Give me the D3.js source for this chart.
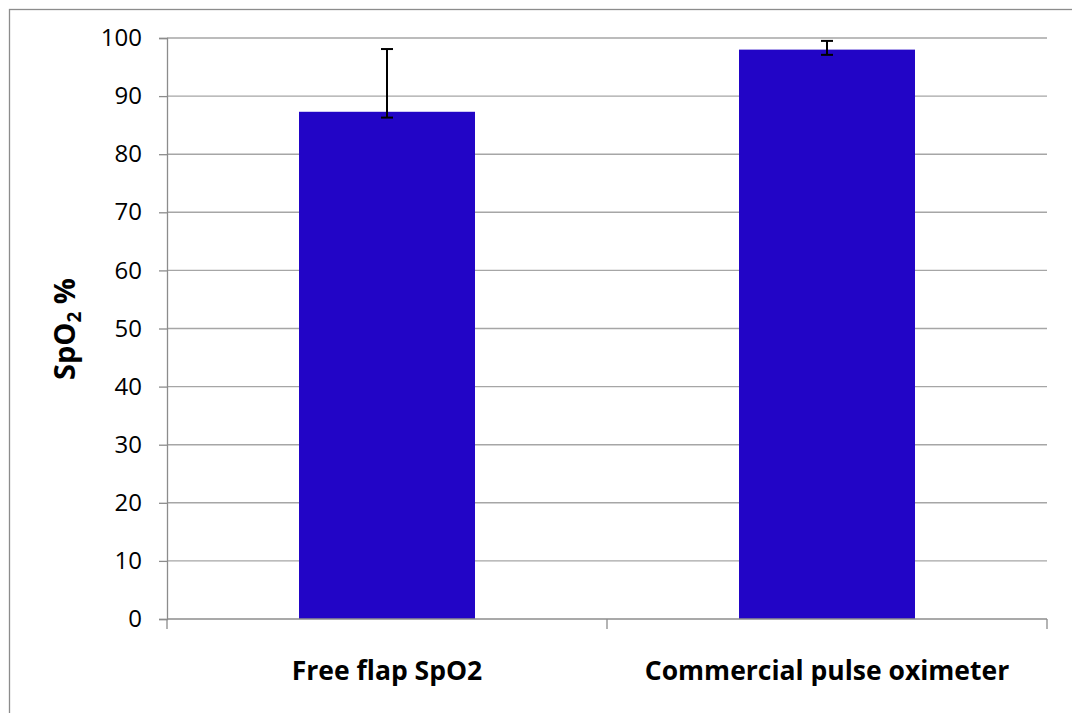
<!DOCTYPE html>
<html><head><meta charset="utf-8">
<script src="https://cdn.jsdelivr.net/npm/d3@7"></script>
<style>
html,body{margin:0;padding:0;background:#fff;}
svg{display:block;}
text{font-family:"Open Sans",sans-serif;fill:#000;}
</style></head>
<body>
<svg id="chart" width="1072" height="713"></svg>
<script>
const categories = ["Free flap SpO2", "Commercial pulse oximeter"];
const values = [87.3, 98.0];
const errLow = [86.3, 97.1];
const errHigh = [98.1, 99.5];
const yTicks = [0, 10, 20, 30, 40, 50, 60, 70, 80, 90, 100];

const svg = d3.select("#chart");
const W = 1072, H = 713;
const plot = {left: 167, right: 1047, top: 38, bottom: 619};

// outer chart border
svg.append("rect").attr("x", 9.5).attr("y", 9.5).attr("width", W + 20).attr("height", H + 20)
  .attr("fill", "none").attr("stroke", "#8c8c8c").attr("stroke-width", 1.3);

const x = d3.scaleBand().domain(categories).range([plot.left, plot.right]).paddingInner(0.6).paddingOuter(0.3);
const y = d3.scaleLinear().domain([0, 100]).range([plot.bottom, plot.top]);

// gridlines
svg.append("g").selectAll("line").data(yTicks.filter(d => d > 0)).join("line")
  .attr("x1", plot.left).attr("x2", plot.right)
  .attr("y1", d => y(d)).attr("y2", d => y(d))
  .attr("stroke", "#a6a6a6").attr("stroke-width", 1.4);

// bars
svg.append("g").selectAll("rect").data(categories).join("rect")
  .attr("x", d => x(d)).attr("width", x.bandwidth())
  .attr("y", (d, i) => y(values[i])).attr("height", (d, i) => y(0) - y(values[i]))
  .attr("fill", "#2205c6");

// y axis
const yAxis = d3.axisLeft(y).tickValues(yTicks).tickSize(8).tickPadding(17);
const gy = svg.append("g").attr("transform", `translate(${plot.left},0)`).call(yAxis);
gy.select(".domain").attr("stroke", "#8c8c8c").attr("stroke-width", 1.3);
gy.selectAll(".tick line").attr("stroke", "#8c8c8c").attr("stroke-width", 1.3);
gy.selectAll(".tick text").attr("font-family", "'Open Sans',sans-serif").attr("font-size", 24).attr("fill", "#000");

// x axis
const xEdges = d3.scaleLinear().domain([0, categories.length]).range([plot.left, plot.right]);
const gx = svg.append("g");
gx.append("line").attr("x1", plot.left).attr("x2", plot.right).attr("y1", y(0)).attr("y2", y(0))
  .attr("stroke", "#8c8c8c").attr("stroke-width", 1.3);
gx.selectAll("line.tk").data(d3.range(categories.length + 1)).join("line").attr("class", "tk")
  .attr("x1", d => xEdges(d)).attr("x2", d => xEdges(d)).attr("y1", y(0)).attr("y2", y(0) + 10)
  .attr("stroke", "#8c8c8c").attr("stroke-width", 1.3);
gx.selectAll("text").data(categories).join("text")
  .attr("x", d => x(d) + x.bandwidth() / 2).attr("y", 680)
  .attr("text-anchor", "middle").attr("font-weight", "bold").attr("font-size", 26.5)
  .text(d => d);

// error bars
const eb = svg.append("g").attr("stroke", "#000").attr("stroke-width", 2);
categories.forEach((c, i) => {
  const cx = x(c) + x.bandwidth() / 2;
  eb.append("line").attr("x1", cx).attr("x2", cx).attr("y1", y(errLow[i])).attr("y2", y(errHigh[i]));
  eb.append("line").attr("x1", cx - 6).attr("x2", cx + 6).attr("y1", y(errLow[i])).attr("y2", y(errLow[i]));
  eb.append("line").attr("x1", cx - 6).attr("x2", cx + 6).attr("y1", y(errHigh[i])).attr("y2", y(errHigh[i]));
});

// y axis title
const yt = svg.append("text").attr("transform", "translate(75,329) rotate(-90)")
  .attr("text-anchor", "middle").attr("font-weight", "bold").attr("font-size", 29);
yt.append("tspan").text("SpO");
yt.append("tspan").attr("font-size", 19).attr("dy", 6).text("2");
yt.append("tspan").attr("dy", -6).text(" %");
</script>
</body></html>
